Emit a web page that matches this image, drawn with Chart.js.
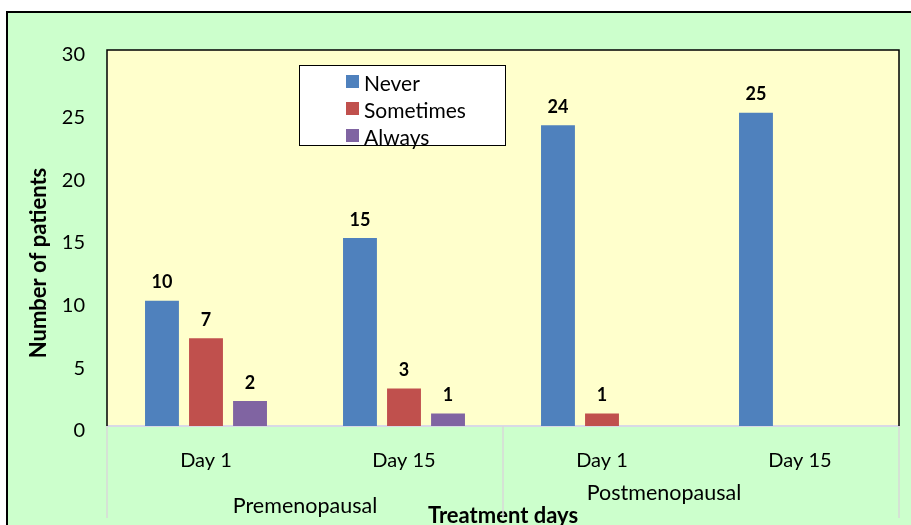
<!DOCTYPE html>
<html>
<head>
<meta charset="utf-8">
<script src="https://cdn.jsdelivr.net/npm/chart.js@4/dist/chart.umd.min.js"></script>
<style>
    body { margin: 0; background: #fff; overflow: hidden; }
    #wrap { position: relative; width: 911px; height: 525px; overflow: hidden; }
    #chartBox { position: absolute; left: 0; top: 0; width: 911px; height: 545px; }
    #legend {
        position: absolute; left: 299px; top: 65px; width: 205px; height: 79px;
        background: #fff; border: 1.5px solid #000;
        font-family: Lato, sans-serif; font-size: 21px; color: #000;
    }
    .item { position: absolute; left: 46px; height: 24px; line-height: 24px; }
    .item span.box { position: absolute; left: 0; top: 4px; width: 13px; height: 13px; }
    .item span.txt { position: absolute; left: 18px; top: 0; white-space: nowrap; }
</style>
</head>
<body>
<div id="wrap">
    <div id="chartBox"><canvas id="treatmentChart"></canvas></div>
    <div id="legend"></div>
</div>
<script>
// data
const dayLabels = ['Day 1', 'Day 15', 'Day 1', 'Day 15'];
const groupLabels = ['Premenopausal', 'Postmenopausal'];
const seriesNames = ['Never', 'Sometimes', 'Always'];
const neverValues = [10, 15, 24, 25];
const sometimesValues = [7, 3, 1, null];
const alwaysValues = [2, 1, null, null];
const yTicks = [0, 5, 10, 15, 20, 25, 30];

const seriesColors = ['#4F81BD', '#C0504D', '#8064A2'];
const fontFamily = 'Lato, sans-serif';

// pozadi, ramecky, oddelovace skupin a popisky skupin
const framePlugin = {
    id: 'frame',
    beforeDraw(chart) {
        const ctx = chart.ctx;
        const a = chart.chartArea;
        ctx.save();
        ctx.fillStyle = '#fff';
        ctx.fillRect(0, 0, chart.width, chart.height);
        ctx.fillStyle = '#CCFFCC';
        ctx.fillRect(7, 12, chart.width, chart.height);
        ctx.strokeStyle = '#000';
        ctx.lineWidth = 2;
        ctx.strokeRect(7, 12, chart.width + 10, chart.height + 10);
        ctx.fillStyle = '#FFFFCC';
        ctx.fillRect(a.left, a.top, a.right - a.left, a.bottom - a.top);
        ctx.restore();
    },
    afterDraw(chart) {
        const ctx = chart.ctx;
        const a = chart.chartArea;
        const x = chart.scales.x;
        const px = dayLabels.map((_, i) => x.getPixelForValue(i));
        const mid = (px[1] + px[2]) / 2;
        ctx.save();
        ctx.strokeStyle = '#000';
        ctx.lineWidth = 1.5;
        ctx.beginPath();
        ctx.moveTo(a.left, a.bottom);
        ctx.lineTo(a.left, a.top);
        ctx.lineTo(a.right, a.top);
        ctx.lineTo(a.right, a.bottom);
        ctx.stroke();
        ctx.strokeStyle = '#D9D9D9';
        ctx.lineWidth = 1.5;
        [a.left, mid, a.right].forEach(p => {
            ctx.beginPath();
            ctx.moveTo(p, a.bottom);
            ctx.lineTo(p, 518);
            ctx.stroke();
        });
        ctx.fillStyle = '#000';
        ctx.textAlign = 'center';
        ctx.textBaseline = 'middle';
        // popisky skupin (Excel posunul druhy popisek kvuli titulku)
        ctx.font = '21.5px ' + fontFamily;
        ctx.fillText(groupLabels[0], (px[0] + px[1]) / 2, 506);
        ctx.fillText(groupLabels[1], (px[2] + px[3]) / 2 - 37, 493);
        // popisek osy y
        ctx.font = 'bold 22px ' + fontFamily;
        ctx.translate(39, 263);
        ctx.rotate(-Math.PI / 2);
        ctx.fillText('Number of patients', 0, 0);
        ctx.restore();
    }
};

// hodnoty nad sloupci
const valueLabels = {
    id: 'valueLabels',
    afterDatasetsDraw(chart) {
        const ctx = chart.ctx;
        ctx.save();
        ctx.fillStyle = '#000';
        ctx.font = 'bold 18px ' + fontFamily;
        ctx.textAlign = 'center';
        ctx.textBaseline = 'middle';
        chart.data.datasets.forEach((ds, i) => {
            chart.getDatasetMeta(i).data.forEach((bar, j) => {
                if (ds.data[j] === null) return;
                ctx.fillText(ds.data[j], bar.x, bar.y - 18);
            });
        });
        ctx.restore();
    }
};

const chart = new Chart(document.getElementById('treatmentChart'), {
    type: 'bar',
    data: {
        labels: dayLabels,
        datasets: [
            { label: seriesNames[0], data: neverValues, backgroundColor: seriesColors[0] },
            { label: seriesNames[1], data: sometimesValues, backgroundColor: seriesColors[1] },
            { label: seriesNames[2], data: alwaysValues, backgroundColor: seriesColors[2] }
        ]
    },
    options: {
        responsive: true,
        maintainAspectRatio: false,
        animation: false,
        categoryPercentage: 0.667,
        barPercentage: 0.77,
        layout: { padding: { top: 50, right: 12, left: 0, bottom: 0 } },
        scales: {
            y: {
                min: 0,
                max: 30,
                afterFit: s => { s.width = 107; },
                afterBuildTicks: s => { s.ticks = yTicks.map(v => ({ value: v })); },
                grid: { display: false, drawTicks: false },
                border: { display: false },
                ticks: {
                    padding: 22,
                    labelOffset: 5,
                    color: '#000',
                    font: { family: fontFamily, size: 20 }
                }
            },
            x: {
                weight: 0,
                afterFit: s => { s.height = 50; },
                grid: { display: false, drawTicks: false },
                border: { display: true, color: '#D9D9E6', width: 2 },
                ticks: {
                    padding: 23,
                    color: '#000',
                    font: { family: fontFamily, size: 20 }
                }
            },
            x2: {
                type: 'category',
                position: 'bottom',
                weight: 1,
                labels: groupLabels,
                offset: true,
                afterFit: s => { s.height = 69; },
                grid: { display: false, drawTicks: false },
                border: { display: false },
                ticks: { display: false },
                title: {
                    display: true,
                    text: 'Treatment days',
                    color: '#000',
                    padding: { top: 0, bottom: 16 },
                    font: { family: fontFamily, size: 22, weight: 'bold' }
                }
            }
        },
        plugins: {
            legend: { display: false },
            tooltip: { enabled: false }
        }
    },
    plugins: [framePlugin, valueLabels]
});

// legenda
const legendEl = document.getElementById('legend');
seriesNames.forEach((name, i) => {
    const item = document.createElement('div');
    item.className = 'item';
    item.style.top = (5 + i * 27) + 'px';
    item.innerHTML = '<span class="box" style="background:' + seriesColors[i] + '"></span><span class="txt">' + name + '</span>';
    legendEl.appendChild(item);
});
</script>
</body>
</html>
